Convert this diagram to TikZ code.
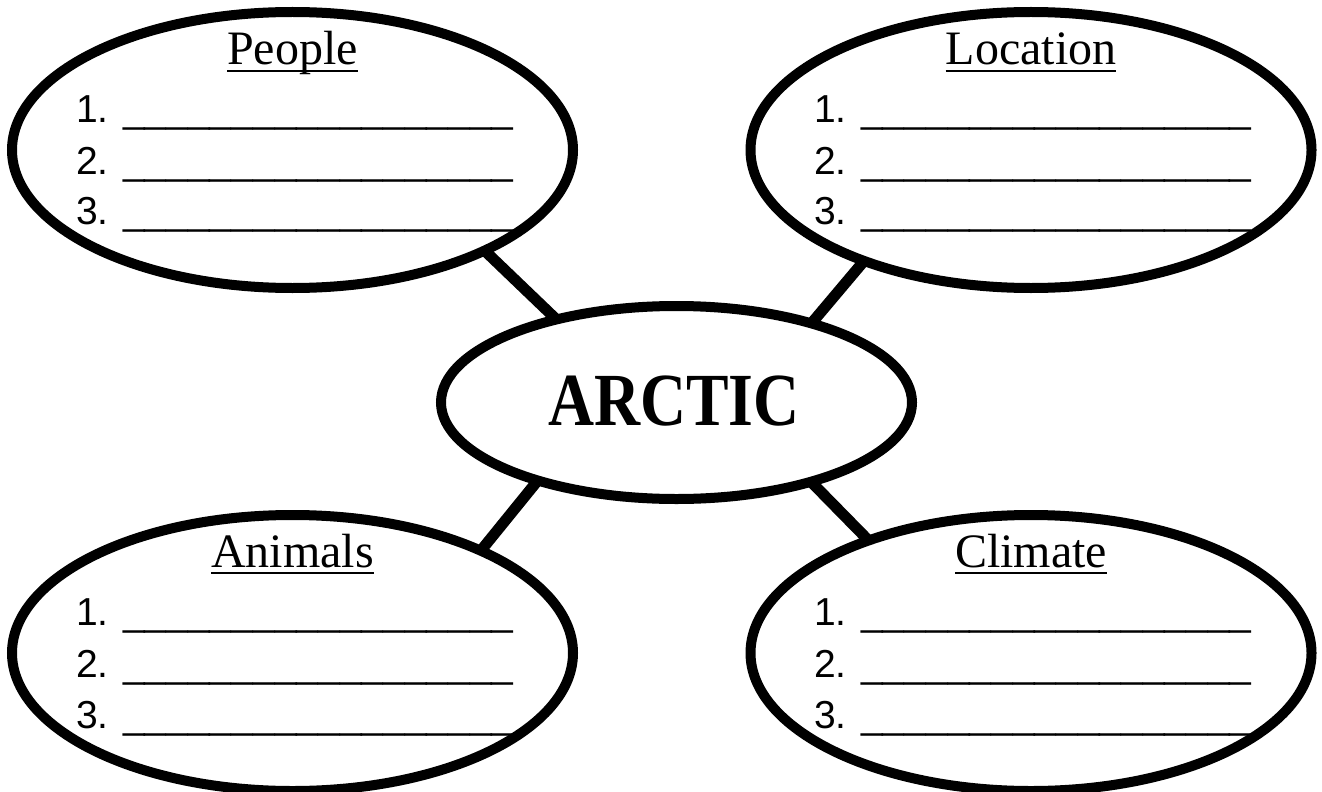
\documentclass[tikz,border=0pt]{standalone}
\usepackage{fontspec}
\setmainfont{Liberation Serif}
\newfontfamily\itemfont{Liberation Sans}
\newfontfamily\arcticfont[FakeStretch=0.85]{Liberation Serif}
\usetikzlibrary{shapes.geometric,backgrounds}
\newcommand\headul[1]{\setbox0\hbox{#1}\rlap{\rule[-3.5pt]{\wd0}{1pt}}\box0}
\newcommand\blankline{\_\_\_\_\_\_\_\_\_\_\_\_\_\_\_\_\_\_}
\begin{document}
\begin{tikzpicture}[x=0.5pt,y=-0.5pt,
  bubble/.style={ellipse,draw,line width=5pt,fill=white,inner sep=0pt,minimum width=280.5pt,minimum height=138pt},
  hub/.style={ellipse,draw,line width=5pt,fill=white,inner sep=0pt,minimum width=235.5pt,minimum height=96.5pt},
  head/.style={anchor=base,inner sep=0pt,font=\fontsize{24pt}{28pt}\selectfont},
  item/.style={anchor=base,inner sep=0pt,font=\itemfont\fontsize{19.5pt}{23pt}\selectfont},
  title/.style={anchor=base,inner sep=0pt,font=\arcticfont\bfseries\fontsize{37.5pt}{40pt}\selectfont},
  conn/.style={line width=5.5pt,shorten <=-10pt,shorten >=-10pt}]
\useasboundingbox (0,0) rectangle (1322,792);
% bubbles
\node[bubble] (tl) at (292.5,150) {};
\node[bubble] (tr) at (1031,150) {};
\node[bubble] (bl) at (292.5,653) {};
\node[bubble] (br) at (1031,653) {};
\node[hub] (c) at (676.5,402.5) {};
% connectors
\begin{pgfonlayer}{background}
\draw[conn] (tl.-28) -- (c.145.6);
\draw[conn] (tr.214.2) -- (c.31.8);
\draw[conn] (c.210) -- (bl.29.9);
\draw[conn] (c.-31) -- (br.145.2);
\end{pgfonlayer}
% centre
\node[title] (ctitle) at (674,425) {ARCTIC};
% top left
\node[head] (h1) at (292.5,65) {\headul{People}};
\node[item] (a1) at (295,123) {1. \blankline};
\node[item] (a2) at (295,174) {2. \blankline};
\node[item] (a3) at (295,224) {3. \blankline};
% top right
\node[head] (h2) at (1031,65) {\headul{Location}};
\node[item] (b1) at (1033,123) {1. \blankline};
\node[item] (b2) at (1033,174) {2. \blankline};
\node[item] (b3) at (1033,224) {3. \blankline};
% bottom left
\node[head] (h3) at (292.5,567) {\headul{Animals}};
\node[item] (d1) at (295,625) {1. \blankline};
\node[item] (d2) at (295,677) {2. \blankline};
\node[item] (d3) at (295,728) {3. \blankline};
% bottom right
\node[head] (h4) at (1031,567) {\headul{Climate}};
\node[item] (e1) at (1033,625) {1. \blankline};
\node[item] (e2) at (1033,677) {2. \blankline};
\node[item] (e3) at (1033,728) {3. \blankline};
\end{tikzpicture}
\end{document}
